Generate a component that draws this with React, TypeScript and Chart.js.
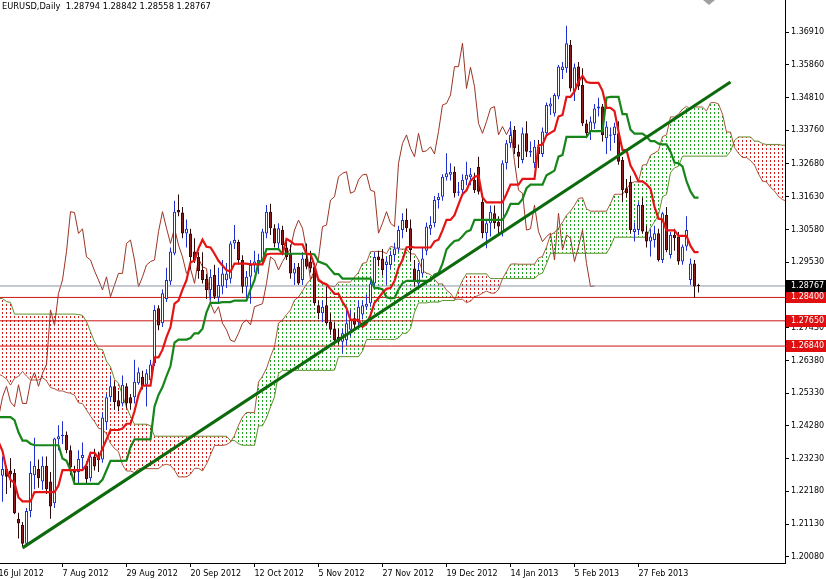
import React, { useEffect, useRef } from 'react';
import { Chart, registerables } from 'chart.js';
Chart.register(...registerables);

// ---- visible daily candles (16 Jul 2012 .. 20 Mar 2013) ----
const opens = [1.2290,1.2268,1.2290,1.2285,1.2277,1.2130,1.2110,1.2050,1.2155,1.2270,1.2290,1.2250,1.2300,1.2250,1.2180,1.2385,1.2395,1.2400,1.2350,1.2285,1.2280,1.2325,1.2300,1.2260,1.2330,1.2334,1.2320,1.2440,1.2520,1.2555,1.2510,1.2500,1.2555,1.2520,1.2520,1.2565,1.2586,1.2560,1.2575,1.2629,1.2805,1.2757,1.2835,1.2891,1.2981,1.3120,1.3112,1.3045,1.3045,1.2987,1.2970,1.2928,1.2900,1.2864,1.2912,1.2840,1.2875,1.2895,1.2900,1.3013,1.3018,1.2960,1.2874,1.2906,1.2944,1.2942,1.2955,1.3045,1.3115,1.3062,1.3013,1.3056,1.3000,1.2981,1.2917,1.2938,1.2896,1.2965,1.2955,1.2938,1.2815,1.2789,1.2815,1.2762,1.2740,1.2714,1.2698,1.2703,1.2736,1.2773,1.2760,1.2785,1.2810,1.2821,1.2885,1.2971,1.2965,1.2944,1.2944,1.2976,1.2997,1.3056,1.3088,1.3062,1.2933,1.2885,1.2917,1.2990,1.3060,1.3078,1.3152,1.3163,1.3225,1.3233,1.3243,1.3176,1.3184,1.3217,1.3225,1.3217,1.3259,1.3147,1.3046,1.3078,1.3110,1.3083,1.3046,1.3270,1.3334,1.3377,1.3307,1.3281,1.3366,1.3305,1.3270,1.3323,1.3300,1.3366,1.3452,1.3430,1.3484,1.3569,1.3575,1.3650,1.3500,1.3580,1.3521,1.3398,1.3372,1.3398,1.3446,1.3452,1.3350,1.3358,1.3361,1.3366,1.3281,1.3190,1.3211,1.3050,1.3056,1.3136,1.3051,1.3019,1.3024,1.3046,1.2960,1.3104,1.2976,1.3040,1.3035,1.2955,1.3003,1.2896,1.2949,1.28794];
const highs = [1.2325,1.2330,1.2300,1.2325,1.2290,1.2150,1.2120,1.2165,1.2315,1.2390,1.2320,1.2330,1.2330,1.2280,1.2390,1.2430,1.2443,1.2410,1.2365,1.2300,1.2350,1.2375,1.2315,1.2345,1.2355,1.2345,1.2470,1.2530,1.2590,1.2570,1.2540,1.2590,1.2565,1.2530,1.2640,1.2615,1.2605,1.2610,1.2640,1.2815,1.2815,1.2865,1.2935,1.3000,1.3150,1.3170,1.3130,1.3090,1.3060,1.3030,1.2985,1.2985,1.2915,1.2930,1.2945,1.2935,1.2960,1.2950,1.3020,1.3072,1.3025,1.2975,1.2925,1.2960,1.2990,1.2980,1.3060,1.3136,1.3140,1.3075,1.3078,1.3070,1.3020,1.3010,1.2950,1.2950,1.2985,1.3013,1.2990,1.2950,1.2830,1.2830,1.2875,1.2790,1.2760,1.2740,1.2740,1.2800,1.2800,1.2790,1.2830,1.2830,1.2850,1.2905,1.2985,1.2990,1.2995,1.2970,1.2990,1.3015,1.3070,1.3110,1.3125,1.3090,1.2960,1.2950,1.3000,1.3080,1.3100,1.3165,1.3175,1.3235,1.3302,1.3270,1.3260,1.3210,1.3235,1.3275,1.3255,1.3240,1.3291,1.3160,1.3085,1.3135,1.3135,1.3100,1.3280,1.3345,1.3405,1.3390,1.3330,1.3385,1.3405,1.3340,1.3345,1.3345,1.3385,1.3465,1.3480,1.3495,1.3585,1.3595,1.3711,1.3665,1.3590,1.3595,1.3575,1.3410,1.3420,1.3460,1.3480,1.3460,1.3405,1.3385,1.3400,1.3405,1.3290,1.3220,1.3230,1.3080,1.3145,1.3160,1.3070,1.3060,1.3070,1.3060,1.3115,1.3130,1.3050,1.3060,1.3050,1.3010,1.3100,1.2965,1.2960,1.28842];
const lows = [1.2260,1.2185,1.2210,1.2230,1.2145,1.2067,1.2042,1.2044,1.2135,1.2225,1.2230,1.2223,1.2210,1.2130,1.2165,1.2350,1.2370,1.2340,1.2270,1.2240,1.2240,1.2290,1.2240,1.2250,1.2285,1.2280,1.2310,1.2415,1.2505,1.2480,1.2475,1.2490,1.2485,1.2480,1.2500,1.2560,1.2545,1.2490,1.2560,1.2620,1.2735,1.2745,1.2825,1.2880,1.2975,1.3100,1.3030,1.3000,1.2930,1.2950,1.2900,1.2885,1.2835,1.2830,1.2835,1.2825,1.2850,1.2870,1.2885,1.2995,1.2945,1.2853,1.2832,1.2820,1.2920,1.2915,1.2945,1.3030,1.3040,1.3000,1.2995,1.2975,1.2960,1.2900,1.2880,1.2880,1.2880,1.2930,1.2920,1.2815,1.2770,1.2760,1.2750,1.2720,1.2690,1.2690,1.2661,1.2685,1.2715,1.2740,1.2745,1.2770,1.2800,1.2810,1.2875,1.2940,1.2910,1.2880,1.2930,1.2955,1.2985,1.3030,1.3050,1.2955,1.2875,1.2875,1.2905,1.2975,1.3040,1.3065,1.3125,1.3150,1.3215,1.3215,1.3160,1.3165,1.3170,1.3200,1.3200,1.3175,1.3170,1.3030,1.2998,1.3035,1.3060,1.3045,1.3035,1.3250,1.3320,1.3300,1.3255,1.3270,1.3290,1.3290,1.3255,1.3255,1.3290,1.3355,1.3425,1.3420,1.3475,1.3540,1.3560,1.3500,1.3470,1.3505,1.3390,1.3350,1.3345,1.3380,1.3420,1.3340,1.3300,1.3310,1.3335,1.3265,1.3145,1.3160,1.3045,1.3019,1.3040,1.3045,1.3000,1.2971,1.3000,1.2955,1.2950,1.2985,1.2965,1.2990,1.2945,1.2945,1.2990,1.2880,1.2840,1.28558];
const closes = [1.2300,1.2290,1.2265,1.2272,1.2148,1.2115,1.2050,1.2155,1.2277,1.2300,1.2260,1.2300,1.2225,1.2170,1.2388,1.2395,1.2400,1.2350,1.2295,1.2278,1.2322,1.2335,1.2258,1.2330,1.2298,1.2318,1.2455,1.2520,1.2555,1.2505,1.2490,1.2560,1.2500,1.2500,1.2570,1.2600,1.2555,1.2597,1.2625,1.2800,1.2750,1.2853,1.2896,1.2987,1.3115,1.3112,1.3045,1.3060,1.2970,1.2960,1.2925,1.2896,1.2864,1.2906,1.2842,1.2880,1.2917,1.2917,1.3013,1.3024,1.2960,1.2874,1.2906,1.2944,1.2955,1.2960,1.3051,1.3115,1.3062,1.3013,1.3062,1.3008,1.2970,1.2917,1.2933,1.2885,1.2965,1.2938,1.2933,1.2821,1.2789,1.2810,1.2757,1.2736,1.2703,1.2698,1.2725,1.2757,1.2768,1.2752,1.2810,1.2815,1.2820,1.2885,1.2970,1.2960,1.2928,1.2955,1.2976,1.2997,1.3056,1.3088,1.3062,1.2992,1.2896,1.2928,1.2965,1.3067,1.3072,1.3152,1.3163,1.3227,1.3238,1.3243,1.3174,1.3180,1.3217,1.3233,1.3235,1.3184,1.3179,1.3046,1.3078,1.3115,1.3078,1.3067,1.3270,1.3334,1.3361,1.3318,1.3291,1.3366,1.3307,1.3310,1.3323,1.3300,1.3372,1.3457,1.3462,1.3489,1.3580,1.3580,1.3655,1.3510,1.3578,1.3516,1.3398,1.3366,1.3404,1.3446,1.3452,1.3361,1.3388,1.3362,1.3388,1.3275,1.3184,1.3174,1.3056,1.3060,1.3136,1.3051,1.3019,1.3035,1.3046,1.2960,1.3110,1.2992,1.3040,1.3030,1.2955,1.3003,1.3056,1.2949,1.2875,1.28767];

// ---- hidden history (28 Mar .. 13 Jul 2012), only used for the Ichimoku lines ----
const preHighs = [1.3380,1.3345,1.3385,1.3365,1.3360,1.3250,1.3140,1.3110,1.3110,1.3135,1.3140,1.3180,1.3215,1.3115,1.3160,1.3145,1.3160,1.3225,1.3210,1.3200,1.3235,1.3265,1.3265,1.3285,1.3260,1.3230,1.3185,1.3180,1.3105,1.3070,1.2990,1.2975,1.2985,1.2935,1.2875,1.2790,1.2785,1.2820,1.2825,1.2815,1.2665,1.2625,1.2575,1.2590,1.2565,1.2475,1.2420,1.2420,1.2480,1.2480,1.2560,1.2625,1.2570,1.2670,1.2530,1.2570,1.2625,1.2675,1.2748,1.2695,1.2720,1.2700,1.2600,1.2580,1.2515,1.2510,1.2485,1.2690,1.2690,1.2605,1.2590,1.2530,1.2410,1.2335,1.2345,1.2300,1.2260,1.2290];
const preLows = [1.3300,1.3285,1.3315,1.3290,1.3240,1.3110,1.3035,1.3030,1.3035,1.3050,1.3070,1.3090,1.3070,1.2995,1.3040,1.3090,1.3070,1.3105,1.3115,1.3135,1.3155,1.3170,1.3195,1.3210,1.3195,1.3160,1.3130,1.3080,1.2955,1.2955,1.2915,1.2910,1.2905,1.2810,1.2730,1.2690,1.2640,1.2665,1.2720,1.2660,1.2545,1.2515,1.2495,1.2495,1.2460,1.2360,1.2330,1.2288,1.2380,1.2400,1.2440,1.2500,1.2440,1.2475,1.2440,1.2470,1.2560,1.2575,1.2555,1.2565,1.2625,1.2540,1.2520,1.2485,1.2440,1.2420,1.2405,1.2440,1.2590,1.2560,1.2505,1.2380,1.2285,1.2280,1.2240,1.2200,1.2165,1.2215];

const dateTickBars = [0,16,32,48,64,80,96,112,128,144,160];
const dateLabels = ['16 Jul 2012','7 Aug 2012','29 Aug 2012','20 Sep 2012','12 Oct 2012','5 Nov 2012','27 Nov 2012','19 Dec 2012','14 Jan 2013','5 Feb 2013','27 Feb 2013'];
const priceTicks = [1.36910,1.35860,1.34810,1.33760,1.32680,1.31630,1.30580,1.29530,1.28480,1.27430,1.26380,1.25330,1.24280,1.23230,1.22180,1.21130,1.20080];
const levelLines = [1.28400,1.27650,1.26840];
const lastPrice = 1.28767;
const trendBars = [6,183];
const trendPrices = [1.2037,1.3531];
const titleText = 'EURUSD,Daily  1.28794 1.28842 1.28558 1.28767';

const tenkanLen = 9, kijunLen = 26, spanBLen = 52, shift = 26;

const FONT = '"DejaVu Sans", sans-serif';

function buildIchimoku() {
  const H = preHighs.concat(highs);
  const L = preLows.concat(lows);
  const OFF = preHighs.length;
  const mid = (k, n) => {
    let hi = -Infinity, lo = Infinity;
    for (let j = Math.max(0, k - n + 1); j <= k; j++) {
      if (H[j] > hi) hi = H[j];
      if (L[j] < lo) lo = L[j];
    }
    return (hi + lo) / 2;
  };
  const tenkan = closes.map((_, i) => ({ x: i, y: mid(i + OFF, tenkanLen) }));
  const kijun = closes.map((_, i) => ({ x: i, y: mid(i + OFF, kijunLen) }));
  const spanA = [], spanB = [], cloud = [];
  for (let j = 0; j < closes.length + shift; j++) {
    const k = j - shift + OFF;
    const a = (mid(k, tenkanLen) + mid(k, kijunLen)) / 2;
    const b = mid(k, spanBLen);
    spanA.push({ x: j, y: a });
    spanB.push({ x: j, y: b });
    cloud.push({ x: j, y: [Math.min(a, b), Math.max(a, b)], up: a >= b });
  }
  const chikou = [];
  for (let i = 0; i + shift < closes.length; i++) chikou.push({ x: i, y: closes[i + shift] });
  return { tenkan, kijun, spanA, spanB, cloud, chikou };
}

function dotPattern(ctx, color) {
  const c = document.createElement('canvas');
  c.width = 1; c.height = 4;
  const g = c.getContext('2d');
  g.fillStyle = color;
  g.fillRect(0, 0, 1, 2);
  return ctx.createPattern(c, 'repeat');
}

const zeroPad = (s) => { s.paddingLeft = 0; s.paddingRight = 0; s.paddingTop = 0; s.paddingBottom = 0; };

export default function App() {
  const ref = useRef(null);
  useEffect(() => {
    document.body.style.margin = '0';
    const canvas = ref.current;
    const ctx = canvas.getContext('2d');
    const ich = buildIchimoku();
    const redDots = dotPattern(ctx, '#d01c1c');
    const greenDots = dotPattern(ctx, '#20a020');

    const xMin = -0.125, xMax = 196.625;
    const yMin = 1.19885, yMax = 1.37936;

    const candleIdx = closes.map((_, i) => i);
    const up = (i) => closes[i] >= opens[i];

    const overlay = {
      id: 'mt4overlay',
      afterDraw(chart) {
        const c = chart.ctx;
        const y = chart.scales.y;
        const area = chart.chartArea;
        c.save();
        c.font = '8.3px ' + FONT;
        c.fillStyle = '#000';
        c.textBaseline = 'middle';
        c.textAlign = 'left';
        c.fillText(titleText, 4, 7);
        c.fillStyle = '#a0a0a0';
        c.beginPath();
        c.moveTo(705, 0); c.lineTo(717, 0); c.lineTo(711, 5); c.closePath(); c.fill();
        const box = (v, bg) => {
          const py = Math.round(y.getPixelForValue(v));
          c.fillStyle = bg;
          c.fillRect(area.right + 1, py - 6, 41, 12);
          c.fillStyle = '#fff';
          c.font = '8px ' + FONT;
          c.fillText(v.toFixed(5), area.right + 6, py);
        };
        levelLines.forEach((v) => box(v, '#e01010'));
        box(lastPrice, '#000');
        c.restore();
      },
    };

    const hline = (v, color, order) => ({
      type: 'line',
      data: [{ x: xMin, y: v }, { x: xMax, y: v }],
      borderColor: color,
      borderWidth: 1,
      pointRadius: 0,
      order,
    });

    const chart = new Chart(canvas, {
      type: 'bar',
      data: {
        datasets: [
          {
            type: 'bar',
            data: ich.cloud,
            backgroundColor: (c) => (c.raw && c.raw.up ? greenDots : redDots),
            borderWidth: 0,
            barThickness: 1,
            grouped: false,
            inflateAmount: 0,
            borderSkipped: false,
            order: 20,
          },
          { type: 'line', data: ich.spanA, borderColor: '#a8553a', borderWidth: 1, pointRadius: 0, order: 18 },
          { type: 'line', data: ich.spanB, borderColor: '#5f8f2a', borderWidth: 1, pointRadius: 0, order: 18 },
          { type: 'line', data: ich.chikou, borderColor: '#9c3424', borderWidth: 1, pointRadius: 0, order: 16 },
          hline(lastPrice, '#8c93a8', 14),
          ...levelLines.map((v) => hline(v, '#cc1414', 14)),
          {
            type: 'bar',
            data: candleIdx.map((i) => ({ x: i, y: [lows[i], highs[i]] })),
            backgroundColor: candleIdx.map((i) => (up(i) ? '#1f2fd0' : '#2a0808')),
            borderWidth: 0,
            barThickness: 1,
            grouped: false,
            inflateAmount: 0,
            borderSkipped: false,
            order: 12,
          },
          {
            type: 'bar',
            data: candleIdx.map((i) => ({ x: i, y: [Math.min(opens[i], closes[i]), Math.max(opens[i], closes[i])] })),
            backgroundColor: candleIdx.map((i) => (up(i) ? '#ffffff' : '#8a1c1c')),
            borderColor: candleIdx.map((i) => (up(i) ? '#1f2fd0' : '#3a0a0a')),
            borderWidth: 1,
            barThickness: 3,
            minBarLength: 1,
            grouped: false,
            inflateAmount: 0,
            borderSkipped: false,
            order: 10,
          },
          { type: 'line', data: ich.kijun, borderColor: '#17861a', borderWidth: 2.2, pointRadius: 0, order: 6 },
          { type: 'line', data: ich.tenkan, borderColor: '#e41414', borderWidth: 2.2, pointRadius: 0, order: 5 },
          {
            type: 'line',
            data: trendBars.map((b, k) => ({ x: b, y: trendPrices[k] })),
            borderColor: '#0c6a0c',
            borderWidth: 3,
            pointRadius: 0,
            order: 1,
          },
        ],
      },
      options: {
        animation: false,
        responsive: false,
        devicePixelRatio: 1,
        events: [],
        layout: { padding: 0 },
        plugins: { legend: { display: false }, tooltip: { enabled: false }, title: { display: false } },
        scales: {
          x: {
            type: 'linear',
            position: 'bottom',
            min: xMin,
            max: xMax,
            offset: false,
            grid: { display: true, drawOnChartArea: false, drawTicks: true, tickLength: 4, color: '#000', offset: false },
            border: { display: true, color: '#000', width: 1 },
            ticks: {
              autoSkip: false,
              maxRotation: 0,
              minRotation: 0,
              align: 'start',
              padding: 2,
              color: '#000',
              font: { family: FONT, size: 8 },
              callback: (v, idx) => dateLabels[idx] ?? '',
            },
            afterBuildTicks: (s) => { s.ticks = dateTickBars.map((v) => ({ value: v })); },
            afterFit: (s) => { s.height = 16; zeroPad(s); },
          },
          y: {
            type: 'linear',
            position: 'right',
            min: yMin,
            max: yMax,
            grid: { display: true, drawOnChartArea: false, drawTicks: true, tickLength: 4, color: '#000' },
            border: { display: true, color: '#000', width: 1 },
            ticks: {
              padding: 2,
              color: '#000',
              font: { family: FONT, size: 8 },
              callback: (v) => Number(v).toFixed(5),
            },
            afterBuildTicks: (s) => { s.ticks = priceTicks.map((v) => ({ value: v })); },
            afterFit: (s) => { s.width = 41; zeroPad(s); },
          },
        },
      },
      plugins: [overlay],
    });
    return () => chart.destroy();
  }, []);

  return (
    <div style={{ position: 'fixed', left: -2, top: 0, width: 828, height: 579, background: '#fff' }}>
      <canvas ref={ref} width={828} height={579} style={{ display: 'block', width: 828, height: 579 }} />
    </div>
  );
}
